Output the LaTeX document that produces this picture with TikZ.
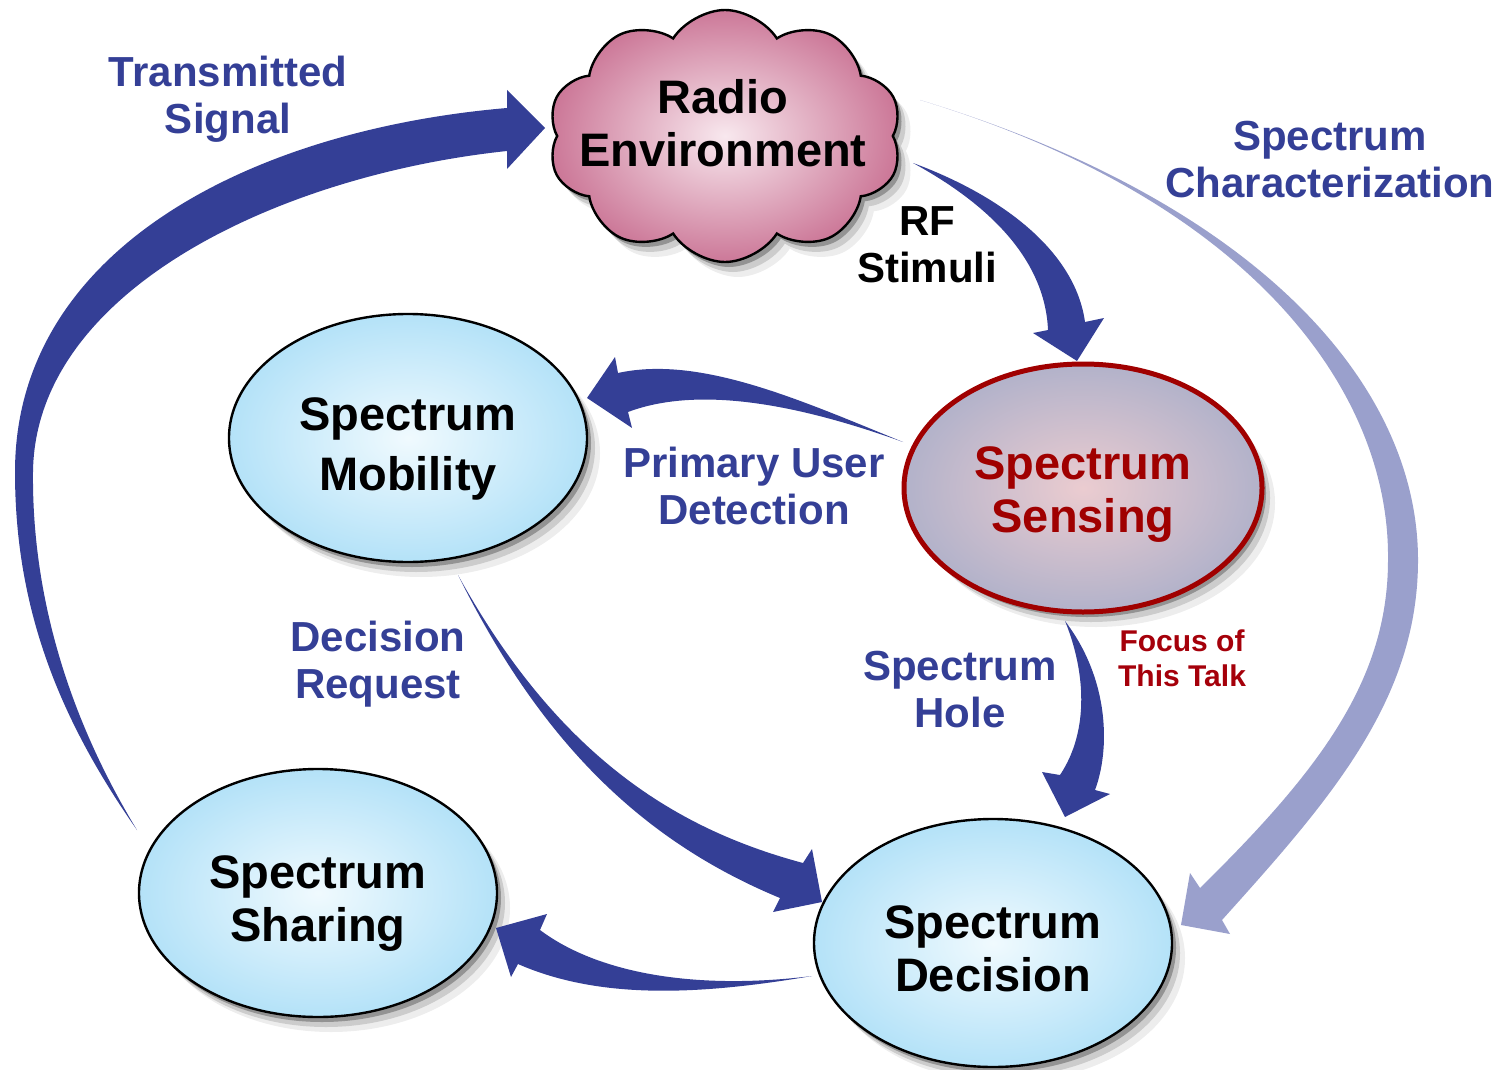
\documentclass[tikz,border=0pt]{standalone}
\usepackage{fontspec}
\setmainfont{Liberation Sans}
\usetikzlibrary{shapes.geometric,shapes.symbols,shadows}
\definecolor{ablue}{HTML}{343F96}
\definecolor{alight}{HTML}{9AA0CC}
\definecolor{dred}{HTML}{A00000}
\definecolor{fred}{HTML}{A5000A}
\definecolor{bluein}{HTML}{F0FAFE}
\definecolor{blueout}{HTML}{B4E2F8}
\definecolor{sensin}{HTML}{EBCCD0}
\definecolor{sensout}{HTML}{B2B2CA}
\definecolor{cloudin}{HTML}{F8E8EE}
\definecolor{cloudout}{HTML}{CC7898}
\tikzset{
  softshadow/.style={
    drop shadow={shadow xshift=2pt,shadow yshift=-2.5pt,opacity=.28,fill=black},
    drop shadow={shadow xshift=4pt,shadow yshift=-5pt,opacity=.14,fill=black},
    drop shadow={shadow xshift=6.5pt,shadow yshift=-7.5pt,opacity=.07,fill=black}},
  bnode/.style={ellipse, draw=black, line width=1.2pt, inner color=bluein,
    outer color=blueout, minimum width=179pt, minimum height=124pt, inner sep=0pt,
    align=center, font=\fontsize{23.5}{26.5}\selectfont\bfseries, softshadow},
  snode/.style={ellipse, draw=dred, line width=2.5pt, inner color=sensin,
    outer color=sensout, minimum width=179pt, minimum height=124pt, inner sep=0pt,
    align=center, text=dred, font=\fontsize{23.5}{26.5}\selectfont\bfseries, softshadow},
  cnode/.style={cloud, cloud puffs=10, cloud puff arc=115, cloud ignores aspect,
    draw=black, line width=1.2pt, inner color=cloudin, outer color=cloudout,
    minimum width=177pt, minimum height=126pt, inner sep=0pt, softshadow},
  lab/.style={text=ablue, align=center, inner sep=0pt,
    font=\fontsize{21}{23.5}\selectfont\bfseries},
  ntext/.style={align=center, inner sep=0pt, font=\fontsize{23.5}{26.5}\selectfont\bfseries},
  tap/.style={fill=ablue},
  taplight/.style={fill=alight}
}
\begin{document}
\begin{tikzpicture}[x=0.5pt,y=-0.5pt]
\useasboundingbox (0,0) rectangle (1509,1070);
% nodes
\node[cnode] (radio) at (725,136) {};
\node[ntext] (radiotxt) at (723,123) {Radio\\Environment};
\node[bnode] (mob) at (408,438) {\rule{0pt}{27pt}Spectrum\\[3.5pt]Mobility};
\node[snode] (sens) at (1083,488) {\rule{0pt}{23pt}Spectrum\\Sensing};
\node[bnode] (share) at (318,893) {\rule{0pt}{27pt}Spectrum\\Sharing};
\node[bnode] (dec) at (993,943) {\rule{0pt}{22pt}Spectrum\\Decision};
% labels
\node[lab] (ltrans) at (228,99) {Transmitted\\Signal};
\node[lab] (lchar) at (1330,160) {Spectrum\\Characterization};
\node[lab,text=black] (lrf) at (927,245) {RF\\Stimuli};
\node[lab] (lpud) at (754,486) {Primary User\\Detection};
\node[lab] (ldr) at (378,664) {Decision\\Request};
\node[lab] (lhole) at (960,690) {Spectrum\\Hole};
\node[lab,text=fred,font=\fontsize{15}{17.5}\selectfont\bfseries] (lfocus) at (1182,658) {Focus of\\This Talk};
% Transmitted Signal: sharing -> radio
\fill[tap] (137,830) .. controls (60,720) and (15,610) .. (15,472)
  .. controls (15,250) and (250,130) .. (507,108)
  -- (507,90) -- (545,128) -- (507,169) -- (507,151)
  .. controls (280,175) and (35,290) .. (33,472)
  .. controls (32,570) and (55,695) .. (137,830) -- cycle;
% RF Stimuli: radio -> sensing
\fill[tap] (913,163) .. controls (1000,195) and (1075,250) .. (1085,322)
  -- (1104,318) -- (1077,361) -- (1033,333) -- (1048,330)
  .. controls (1045,260) and (990,205) .. (913,163) -- cycle;
% Primary User Detection: sensing -> mobility
\fill[tap] (903,442) .. controls (800,400) and (700,355) .. (618,373)
  -- (615,357) -- (587,398) -- (632,428) -- (628,412)
  .. controls (700,385) and (800,405) .. (903,442) -- cycle;
% Decision Request: mobility -> decision
\fill[tap] (458,575) .. controls (560,760) and (680,830) .. (803,863)
  -- (812,849) -- (822,902) -- (773,912) -- (780,898)
  .. controls (640,840) and (540,740) .. (458,575) -- cycle;
% decision -> sharing
\fill[tap] (812,976) .. controls (700,990) and (600,975) .. (540,930)
  -- (547,914) -- (496,928) -- (511,977) -- (518,964)
  .. controls (600,1000) and (700,995) .. (812,976) -- cycle;
% Spectrum Hole: sensing -> decision
\fill[tap] (1065,621) .. controls (1110,680) and (1110,750) .. (1095,790)
  -- (1110,794) -- (1065,817) -- (1042,772) -- (1060,775)
  .. controls (1090,730) and (1085,670) .. (1065,621) -- cycle;
% Spectrum Characterization: radio -> decision
\fill[taplight] (920,100) .. controls (1250,200) and (1418,380) .. (1418,560)
  .. controls (1418,700) and (1330,800) .. (1222,920)
  -- (1230,934) -- (1181,925) -- (1190,873) -- (1200,888)
  .. controls (1320,770) and (1388,680) .. (1388,560)
  .. controls (1390,390) and (1250,200) .. (920,100) -- cycle;
\end{tikzpicture}
\end{document}
